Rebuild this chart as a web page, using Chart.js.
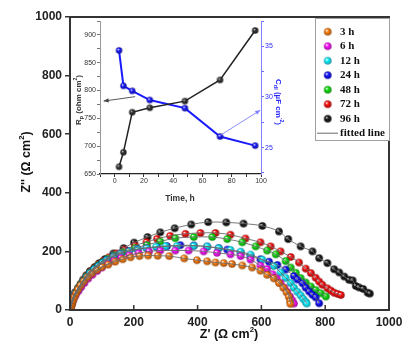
<!DOCTYPE html>
<html><head><meta charset="utf-8">
<script src="https://cdn.jsdelivr.net/npm/chart.js@4/dist/chart.umd.min.js"></script>
<style>
html,body{margin:0;padding:0;background:#fff;}
#wrap{position:relative;width:414px;height:357px;background:#fff;}
#main{position:absolute;left:0;top:0;}
#inset{position:absolute;left:70px;top:14px;}
</style></head><body>
<div id="wrap"><canvas id="main" width="414" height="357"></canvas><canvas id="inset" width="216" height="200"></canvas></div>
<script>
// ---------- main Nyquist data: [Z', Z''] ----------
const seriesLabels = ['3 h','6 h','12 h','24 h','48 h','72 h','96 h'];
const seriesColors = ['#ff7f10','#ff10ff','#10f0ff','#1010ff','#10e010','#ff1010','#1a1a1a'];
const z3h = [[2,0],[3,8],[5,16],[7,25],[10,34],[14,45],[19,57],[25,70],[33,84],[43,98],[55,112],[68,125],[84,137],[100,147],[120,155],[142,165],[165,173],[190,180],[218,184],[245,186],[275,185],[311,184],[358,176],[398,170],[430,166],[456,162],[482,160],[508,157],[540,152],[571,145],[597,134],[618,120],[639,108],[655,92],[669,76],[679,60],[686,45],[690,30],[691,21]];
const z6h = [[1,0],[2,8],[4,17],[7,27],[11,38],[17,50],[26,64],[35,78],[45,92],[57,107],[70,120],[85,133],[100,145],[118,157],[138,168],[160,178],[186,187],[215,194],[248,200],[283,203],[330,203],[372,203],[419,200],[461,195],[503,190],[535,184],[566,172],[597,152],[618,140],[635,122],[648,108],[660,92],[672,76],[681,62],[690,46],[697,33],[702,22]];
const z12h = [[1,0],[2,10],[4,20],[7,31],[11,43],[17,56],[26,70],[34,84],[42,97],[52,112],[63,126],[76,138],[89,149],[102,160],[115,170],[135,182],[158,192],[185,201],[212,207],[240,212],[270,216],[300,218],[335,218],[388,219],[430,217],[466,211],[503,205],[535,199],[566,189],[603,172],[639,150],[660,128],[676,110],[692,92],[702,76],[713,62],[723,50],[731,38],[739,28],[742,22]];
const z24h = [[1,0],[2,11],[4,21],[7,32],[11,44],[17,57],[26,71],[34,85],[42,98],[52,113],[63,127],[76,139],[89,150],[102,161],[115,171],[135,183],[158,193],[185,202],[212,208],[240,212],[273,214],[304,218],[346,221],[388,220],[430,216],[466,211],[493,206],[535,196],[566,184],[597,173],[624,165],[650,154],[676,138],[702,116],[713,104],[729,91],[739,76],[750,63],[760,52],[770,43],[781,23]];
const z48h = [[1,0],[2,11],[4,22],[7,33],[11,45],[17,58],[26,73],[34,87],[42,100],[52,115],[63,129],[76,141],[89,153],[102,164],[118,175],[140,187],[165,198],[204,212],[241,222],[283,234],[330,245],[388,249],[446,249],[493,242],[540,231],[582,217],[618,203],[645,190],[676,167],[692,145],[708,127],[723,109],[739,94],[755,80],[770,68],[786,57],[802,46]];
const z72h = [[1,0],[2,11],[4,22],[7,34],[11,46],[17,59],[26,74],[34,88],[42,102],[52,117],[63,131],[76,144],[89,156],[104,168],[122,180],[145,193],[172,206],[204,220],[240,232],[273,243],[314,253],[362,260],[409,263],[456,263],[503,257],[550,244],[597,231],[629,217],[660,200],[692,181],[718,162],[739,141],[755,126],[770,110],[781,97],[791,86],[807,74],[818,66],[828,59],[839,55],[849,51]];
const z96h = [[1,0],[2,12],[4,23],[7,35],[11,47],[17,61],[26,76],[34,90],[42,104],[52,119],[63,133],[78,147],[92,160],[110,174],[136,193],[168,211],[201,230],[243,249],[283,265],[328,279],[380,292],[433,300],[490,299],[544,295],[603,287],[655,268],[684,242],[723,217],[760,200],[781,177],[807,160],[828,139],[844,128],[860,114],[875,103],[886,101],[896,82],[906,77],[919,72],[933,59],[940,56]];
const allSeries = [z3h,z6h,z12h,z24h,z48h,z72h,z96h];
const mainTicks = [0,200,400,600,800,1000];

// ---------- inset data ----------
const times = [3,6,12,24,48,72,96];
const rp = [663,689,761,769,781,819,908];
const cdl = [34.6,31.1,30.6,29.7,28.9,26.1,25.2];
const blackArrow = [[14,789],[-7.5,781]];
const blueArrow = [[72,26.2],[99.5,28.7]];

function shade(hex,f){const n=parseInt(hex.slice(1),16);const r=(n>>16)&255,g=(n>>8)&255,b=n&255;return `rgb(${Math.round(r*f)},${Math.round(g*f)},${Math.round(b*f)})`;}
function makeSphere(color,r){
  const s=Math.ceil(2*r+2);const c=document.createElement('canvas');c.width=s;c.height=s;
  const g=c.getContext('2d');const cx=s/2,cy=s/2;
  const grad=g.createRadialGradient(cx-r*0.35,cy-r*0.4,r*0.05,cx,cy,r);
  grad.addColorStop(0,color==='#1a1a1a'||color==='#333333'?'#cccccc':'#ffffff');
  grad.addColorStop(0.4,color);grad.addColorStop(1,shade(color,0.6));
  g.fillStyle=grad;g.beginPath();g.arc(cx,cy,r,0,Math.PI*2);g.fill();
  return c;
}
function drawRich(ctx,parts,x,y,rot,color,size,family,weight){
  ctx.save();ctx.translate(x,y);ctx.rotate(rot);ctx.fillStyle=color;ctx.textBaseline='alphabetic';
  let total=0;
  const m=parts.map(p=>{const sz=size*(p.s||1);ctx.font=`${weight} ${sz}px ${family}`;const w=ctx.measureText(p.t).width;total+=w;return Object.assign({w,sz},p);});
  let cx=-total/2;
  for(const p of m){ctx.font=`${weight} ${p.sz}px ${family}`;ctx.fillText(p.t,cx,size*0.36+(p.dy||0)*size);cx+=p.w;}
  ctx.restore();
}
const SUP={s:0.62,dy:-0.45}, SUB={s:0.68,dy:0.28};

const spheres = seriesColors.map(c=>makeSphere(c,3.8));
const pointSets=[], fitSets=[];
allSeries.forEach((arr,i)=>{
  const d=arr.map(p=>({x:p[0],y:p[1]}));
  pointSets.push({label:seriesLabels[i],data:d,pointStyle:spheres[i],showLine:false,order:1});
  fitSets.push({label:'fitted line',data:d,showLine:true,pointRadius:0,borderColor:'#6a6a6a',borderWidth:0.9,tension:0.35,order:0});
});

const mainFont={family:"'Liberation Sans', Arial, sans-serif",size:12,weight:'bold'};
const mainPlugin={
  id:'mainDeco',
  afterDraw(chart){
    const ctx=chart.ctx,a=chart.chartArea,xs=chart.scales.x;
    ctx.save();
    ctx.strokeStyle='#333';ctx.lineWidth=2;
    ctx.strokeRect(a.left,a.top,a.right-a.left,a.bottom-a.top);
    ctx.lineWidth=1.5;
    mainTicks.forEach(v=>{const px=xs.getPixelForValue(v);ctx.beginPath();ctx.moveTo(px,a.bottom);ctx.lineTo(px,a.bottom-5);ctx.stroke();});
    // legend
    const lx=315,ly=18,lw=a.right-315,lh=122;
    ctx.fillStyle='#fff';ctx.fillRect(lx,ly,lw,lh);
    ctx.strokeStyle='#a0a0a0';ctx.lineWidth=1;ctx.strokeRect(lx+0.5,ly+0.5,lw,lh);
    ctx.font="bold 11px 'Liberation Serif', 'Times New Roman', serif";ctx.textBaseline='middle';ctx.fillStyle='#111';
    seriesLabels.forEach((lab,i)=>{
      const y=31.7+i*14.5;const im=spheres[i];
      ctx.drawImage(im,327.7-im.width/2,y-im.height/2);
      ctx.fillText(lab,340,y);
    });
    const fy=31.7+7*14.5;
    ctx.strokeStyle='#6a6a6a';ctx.lineWidth=1;ctx.beginPath();ctx.moveTo(317,fy);ctx.lineTo(338,fy);ctx.stroke();
    ctx.fillText('fitted line',340,fy);
    // axis titles
    const fam="'Liberation Sans', Arial, sans-serif";
    drawRich(ctx,[{t:"Z'' (Ω cm"},Object.assign({t:'2'},SUP),{t:')'}],25,162,-Math.PI/2,'#111',12.5,fam,'bold');
    drawRich(ctx,[{t:"Z' (Ω cm"},Object.assign({t:'2'},SUP),{t:')'}],229,333,0,'#111',12.5,fam,'bold');
    ctx.restore();
  }
};

new Chart(document.getElementById('main'),{
  type:'scatter',
  data:{datasets:[...fitSets,...pointSets]},
  options:{
    responsive:false,animation:false,
    layout:{padding:{left:0,right:25,top:17,bottom:0}},
    plugins:{legend:{display:false},tooltip:{enabled:false}},
    scales:{
      x:{type:'linear',min:0,max:1000,
        ticks:{stepSize:200,font:mainFont,color:'#222',padding:5,maxRotation:0,callback:v=>String(v)},
        grid:{display:false,drawTicks:false},border:{display:false},
        afterFit(s){s.height=47;}},
      y:{type:'linear',min:0,max:1000,
        ticks:{stepSize:200,font:mainFont,color:'#222',padding:3,callback:v=>String(v)},
        grid:{drawOnChartArea:false,tickLength:5,color:'#333',lineWidth:1.5},border:{display:false},
        afterFit(s){s.width=70;}}
    }
  },
  plugins:[mainPlugin]
});

// ---------- inset ----------
const insetFont={family:"'Liberation Sans', Arial, sans-serif",size:7};
const blackSph=makeSphere('#333333',3.2), blueSph=makeSphere('#1a1aff',3.2);
function drawArrow(ctx,x1,y1,x2,y2,color,w){
  ctx.save();ctx.strokeStyle=color;ctx.fillStyle=color;ctx.lineWidth=w;
  ctx.beginPath();ctx.moveTo(x1,y1);ctx.lineTo(x2,y2);ctx.stroke();
  const ang=Math.atan2(y2-y1,x2-x1),L=5,W=2.2;
  ctx.beginPath();ctx.moveTo(x2,y2);
  ctx.lineTo(x2-L*Math.cos(ang)+W*Math.sin(ang),y2-L*Math.sin(ang)-W*Math.cos(ang));
  ctx.lineTo(x2-L*Math.cos(ang)-W*Math.sin(ang),y2-L*Math.sin(ang)+W*Math.cos(ang));
  ctx.closePath();ctx.fill();ctx.restore();
}
const insetPlugin={
  id:'insetDeco',
  afterDraw(chart){
    const ctx=chart.ctx,{x,y,y1}=chart.scales;
    drawArrow(ctx,x.getPixelForValue(blackArrow[0][0]),y.getPixelForValue(blackArrow[0][1]),x.getPixelForValue(blackArrow[1][0]),y.getPixelForValue(blackArrow[1][1]),'#444',0.9);
    drawArrow(ctx,x.getPixelForValue(blueArrow[0][0]),y1.getPixelForValue(blueArrow[0][1]),x.getPixelForValue(blueArrow[1][0]),y1.getPixelForValue(blueArrow[1][1]),'#8080ff',0.9);
    const fam="'Liberation Sans', Arial, sans-serif";
    drawRich(ctx,[{t:'R'},Object.assign({t:'p'},SUB),{t:' (ohm cm'},Object.assign({t:'2'},SUP),{t:')'}],8,86,-Math.PI/2,'#333',8,fam,'bold');
    drawRich(ctx,[{t:'C'},Object.assign({t:'dl'},SUB),{t:' (µF cm'},Object.assign({t:'-2'},SUP),{t:')'}],209,88,Math.PI/2,'#2a2aff',8,fam,'bold');
    drawRich(ctx,[{t:'Time, h'}],110,184,0,'#333',8.5,fam,'bold');
  }
};
function near(v,m){return Math.abs(v/m-Math.round(v/m))<1e-6;}
new Chart(document.getElementById('inset'),{
  type:'scatter',
  data:{datasets:[
    {label:'Rp',data:times.map((t,i)=>({x:t,y:rp[i]})),yAxisID:'y',showLine:true,borderColor:'#222',borderWidth:1.5,pointStyle:blackSph,tension:0},
    {label:'Cdl',data:times.map((t,i)=>({x:t,y:cdl[i]})),yAxisID:'y1',showLine:true,borderColor:'#1a1aff',borderWidth:2,pointStyle:blueSph,tension:0}
  ]},
  options:{
    responsive:false,animation:false,
    layout:{padding:{left:0,right:0,top:7,bottom:0}},
    plugins:{legend:{display:false},tooltip:{enabled:false}},
    scales:{
      x:{type:'linear',min:-10,max:100,
        ticks:{stepSize:10,includeBounds:false,font:insetFont,color:'#333',padding:0,maxRotation:0,autoSkip:false,callback:v=>near(v,20)?String(v):''},
        grid:{drawOnChartArea:false,tickLength:3,color:'#333'},border:{display:true,color:'#222',width:1.2},
        afterFit(s){s.height=40;}},
      y:{type:'linear',position:'left',min:650,max:925,
        ticks:{stepSize:25,includeBounds:false,font:insetFont,color:'#333',padding:1,autoSkip:false,callback:v=>near(v,50)?String(v):''},
        grid:{drawOnChartArea:false,tickLength:3,color:'#777'},border:{display:true,color:'#999',width:1},
        afterFit(s){s.width=30;}},
      y1:{type:'linear',position:'right',min:22.4,max:37.5,
        ticks:{stepSize:2.5,includeBounds:false,font:insetFont,color:'#2a2aff',padding:1,autoSkip:false,callback:v=>near(v,5)?String(Math.round(v)):''},
        grid:{drawOnChartArea:false,tickLength:3,color:'#6a6aff'},border:{display:true,color:'#8080ff',width:1},
        afterFit(s){s.width=25;}}
    }
  },
  plugins:[insetPlugin]
});
</script>
</body></html>
